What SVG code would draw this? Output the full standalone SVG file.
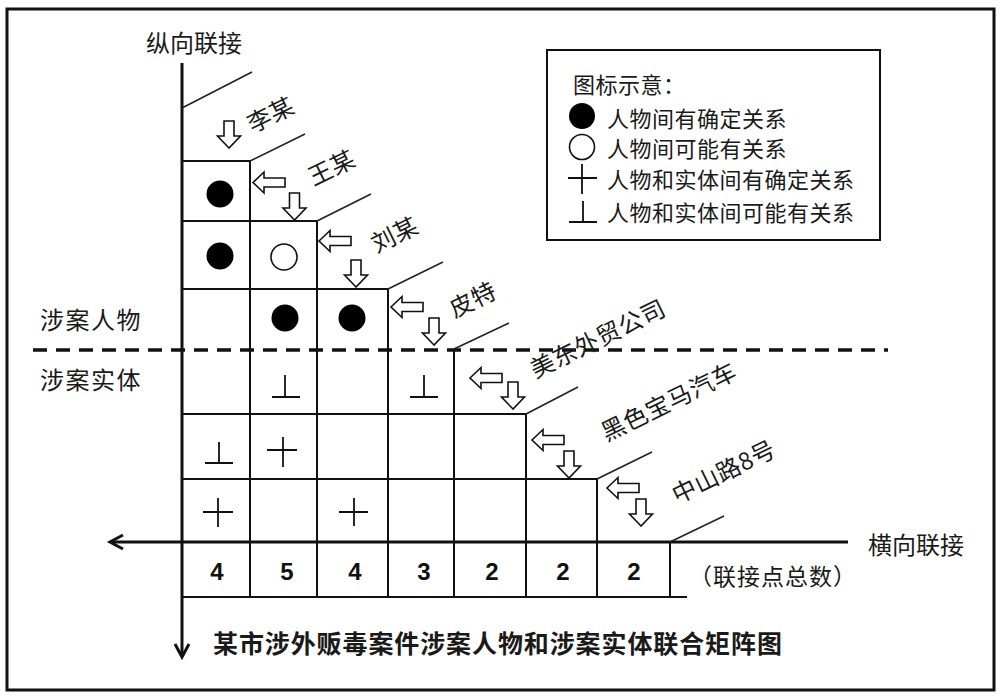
<svg xmlns="http://www.w3.org/2000/svg" xmlns:xlink="http://www.w3.org/1999/xlink" width="1001" height="697" viewBox="0 0 1001 697">
<style>
.t{font-family:"Noto Sans CJK SC","Liberation Sans",sans-serif;fill:#1a1a1a;dominant-baseline:central}
.lab{font-size:24px;letter-spacing:0.5px;text-anchor:middle}
.leg{font-size:22px;letter-spacing:0.5px}
.num{font-family:"Liberation Sans","Noto Sans CJK SC",sans-serif;font-weight:bold;font-size:24px;text-anchor:middle;dominant-baseline:central;fill:#111}
.g{stroke:#111;stroke-width:2;fill:none}
.ax{stroke:#111;stroke-width:3;fill:none}
.d{stroke:#222;stroke-width:1.6;fill:none}
.sym{stroke:#111;stroke-width:1.8;fill:none}
.arr{fill:#fff;stroke:#111;stroke-width:1.6;stroke-linejoin:miter}
</style>
<defs>
<path id="la" class="arr" d="M0,0 L11,-10.5 L11,-4.5 L32,-4.5 L32,4.5 L11,4.5 L11,10.5 Z"/>
<path id="da" class="arr" d="M0,0 L-11.5,-12 L-5,-12 L-5,-27 L5,-27 L5,-12 L11.5,-12 Z"/>
</defs>
<rect x="0" y="0" width="1001" height="697" fill="#fff"/>
<rect x="7" y="9" width="987" height="681" fill="none" stroke="#111" stroke-width="3"/>

<g id="axes">
<text class="t" x="194" y="41" font-size="24" text-anchor="middle">纵向联接</text>
<text class="t" x="868" y="543" font-size="24">横向联接</text>
</g>

<g id="connectors">
<line class="ax" x1="182" y1="63" x2="182" y2="656"/>
<polyline class="ax" points="175,644 182,657 189,644"/>
<line class="ax" x1="111" y1="542" x2="848" y2="542"/>
<polyline class="ax" points="123,535 110,542 123,549"/>
<line x1="33" y1="350" x2="888" y2="350" stroke="#111" stroke-width="3.5" stroke-dasharray="14,9"/>
<line class="g" x1="182" y1="161" x2="250" y2="161"/>
<line class="g" x1="182" y1="221" x2="317" y2="221"/>
<line class="g" x1="182" y1="289" x2="388" y2="289"/>
<line class="g" x1="182" y1="414" x2="526" y2="414"/>
<line class="g" x1="182" y1="479" x2="597" y2="479"/>
<line class="g" x1="182" y1="597" x2="687" y2="597"/>
<line class="g" x1="250" y1="161" x2="250" y2="597"/>
<line class="g" x1="317" y1="221" x2="317" y2="597"/>
<line class="g" x1="388" y1="289" x2="388" y2="597"/>
<line class="g" x1="454" y1="349" x2="454" y2="597"/>
<line class="g" x1="526" y1="414" x2="526" y2="597"/>
<line class="g" x1="597" y1="479" x2="597" y2="597"/>
<line class="g" x1="670" y1="542" x2="670" y2="597"/>
<line class="d" x1="182" y1="108" x2="252" y2="72"/>
<line class="d" x1="250" y1="161" x2="305" y2="134"/>
<line class="d" x1="317" y1="221" x2="371" y2="194"/>
<line class="d" x1="388" y1="289" x2="443" y2="262"/>
<line class="d" x1="454" y1="349" x2="509" y2="323"/>
<line class="d" x1="526" y1="414" x2="578" y2="387"/>
<line class="d" x1="597" y1="479" x2="652" y2="452"/>
<line class="d" x1="670" y1="542" x2="724" y2="516"/>
</g>

<g id="arrows">
<use xlink:href="#da" x="229" y="148"/>
<use xlink:href="#la" x="253" y="182.5"/>
<use xlink:href="#da" x="294.5" y="220"/>
<use xlink:href="#la" x="319" y="241"/>
<use xlink:href="#da" x="356" y="287"/>
<use xlink:href="#la" x="391" y="307"/>
<use xlink:href="#da" x="434" y="345"/>
<use xlink:href="#la" x="470" y="378"/>
<use xlink:href="#da" x="513" y="409"/>
<use xlink:href="#la" x="532" y="440"/>
<use xlink:href="#da" x="569" y="478"/>
<use xlink:href="#la" x="607" y="488"/>
<use xlink:href="#da" x="641" y="526"/>
</g>

<g id="node-li"><text class="t lab" transform="translate(270,113) rotate(-26)">李某</text></g>
<g id="node-wang"><text class="t lab" transform="translate(331,166) rotate(-26)">王某</text></g>
<g id="node-liu"><text class="t lab" transform="translate(394,233) rotate(-26)">刘某</text></g>
<g id="node-pite"><text class="t lab" transform="translate(472,298) rotate(-26)">皮特</text></g>
<g id="node-meidong"><text class="t lab" transform="translate(597,337) rotate(-26)">美东外贸公司</text></g>
<g id="node-bmw"><text class="t lab" transform="translate(668,400) rotate(-26)">黑色宝马汽车</text></g>
<g id="node-zhongshan"><text class="t lab" transform="translate(723,470) rotate(-26)">中山路8号</text></g>

<g id="cells">
<circle cx="220" cy="194" r="13.5" fill="#000"/>
<circle cx="220" cy="256" r="13.5" fill="#000"/>
<circle cx="284" cy="257" r="13" fill="none" stroke="#111" stroke-width="1.6"/>
<circle cx="285" cy="318" r="13.5" fill="#000"/>
<circle cx="352" cy="318" r="13.5" fill="#000"/>
<path class="sym" d="M272,397 H300 M285,375 V397"/>
<path class="sym" d="M410,397 H438 M424,375 V397"/>
<path class="sym" d="M205,463 H233 M219,442 V463"/>
<path class="sym" d="M267,450 H297 M283,437 V467"/>
<path class="sym" d="M203,512 H233 M218,498 V527"/>
<path class="sym" d="M339,512 H368 M354,498 V526"/>
</g>

<g id="counts">
<text class="num" x="217" y="571">4</text>
<text class="num" x="287" y="571">5</text>
<text class="num" x="355" y="571">4</text>
<text class="num" x="424" y="571">3</text>
<text class="num" x="492" y="571">2</text>
<text class="num" x="563" y="571">2</text>
<text class="num" x="634" y="571">2</text>
<text class="t" x="689" y="575" font-size="23" letter-spacing="1">（联接点总数）</text>
</g>

<g id="side-labels">
<text class="t" x="40" y="318" font-size="24" letter-spacing="1.5">涉案人物</text>
<text class="t" x="40" y="378" font-size="24" letter-spacing="1.5">涉案实体</text>
</g>

<g id="legend">
<rect x="547" y="50" width="333" height="190" fill="none" stroke="#111" stroke-width="2"/>
<text class="t leg" x="573" y="83">图标示意：</text>
<circle cx="582" cy="116" r="13" fill="#000"/>
<text class="t leg" x="607" y="117">人物间有确定关系</text>
<circle cx="582" cy="147" r="12.5" fill="none" stroke="#111" stroke-width="1.6"/>
<text class="t leg" x="607" y="147">人物间可能有关系</text>
<path class="sym" d="M568,178 H597 M582,164 V194"/>
<text class="t leg" x="607" y="178">人物和实体间有确定关系</text>
<path class="sym" d="M569,222 H597 M583,201 V222"/>
<text class="t leg" x="607" y="211">人物和实体间可能有关系</text>
</g>

<g id="title">
<text class="t" x="213" y="642" font-size="25" font-weight="bold" letter-spacing="0.9">某市涉外贩毒案件涉案人物和涉案实体联合矩阵图</text>
</g>
</svg>
